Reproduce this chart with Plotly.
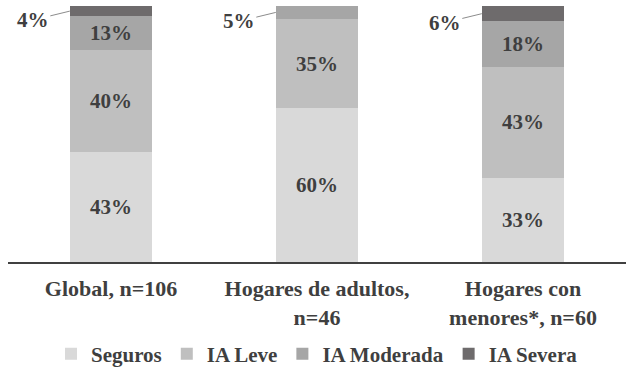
import plotly.graph_objects as go

categories = ["Global, n=106", "Hogares de adultos,<br>n=46", "Hogares con<br>menores*, n=60"]
series_names = ["Seguros", "IA Leve", "IA Moderada", "IA Severa"]
seguros = [43, 60, 33]
ia_leve = [40, 35, 43]
ia_moderada = [13, 5, 18]
ia_severa = [4, 0, 6]

colors = ["#d9d9d9", "#bfbfbf", "#a6a6a6", "#6e6b6c"]
font_family = "Liberation Serif, Times New Roman, serif"
text_color = "#3f3f3f"

values = [seguros, ia_leve, ia_moderada, ia_severa]
x_idx = list(range(len(categories)))

fig = go.Figure()
for name, vals, col in zip(series_names, values, colors):
    texts = [f"<b>{v}%</b>" if v >= 10 else "" for v in vals]
    fig.add_trace(go.Bar(
        name=f"<b>{name}</b>", x=x_idx, y=vals, marker=dict(color=col, line=dict(width=0)),
        text=texts, textposition="inside", insidetextanchor="middle",
        textfont=dict(family=font_family, size=21, color=text_color),
        width=0.4, hoverinfo="skip",
    ))

# outside labels for small top segments
for i in x_idx:
    base = seguros[i] + ia_leve[i]
    small = [(ia_moderada[i], base), (ia_severa[i], base + ia_moderada[i])]
    for v, b in small:
        if 0 < v < 10:
            fig.add_annotation(
                x=i - 0.2, y=b + v / 2, xref="x", yref="y",
                text=f"<b>{v}%</b>", showarrow=True, arrowhead=0, arrowwidth=1,
                arrowcolor="#8c8c8c", ax=-37, ay=9,
                font=dict(family=font_family, size=21, color=text_color),
                standoff=0,
            )

fig.update_layout(
    barmode="stack",
    width=630, height=373,
    margin=dict(l=8, r=4, t=6, b=111, autoexpand=False),
    plot_bgcolor="white", paper_bgcolor="white",
    showlegend=True,
    legend=dict(orientation="h", x=0.5, xanchor="center", y=-0.28, yanchor="top",
                font=dict(family=font_family, size=21, color=text_color),
                itemwidth=30, traceorder="normal"),
    font=dict(family=font_family, color=text_color),
)
fig.update_xaxes(
    tickvals=x_idx, ticktext=[f"<b>{c}</b>" for c in categories], range=[-0.5, 2.5],
    showline=True, linecolor="#404040", linewidth=2, ticks="", showgrid=False,
    tickfont=dict(family=font_family, size=22, color=text_color), automargin=False,
    ticklabelstandoff=6,
)
fig.update_yaxes(range=[0, 100], visible=False, showgrid=False)

fig.write_html("out.html", config={"displayModeBar": False},
               post_script="document.body.style.margin='0';")
